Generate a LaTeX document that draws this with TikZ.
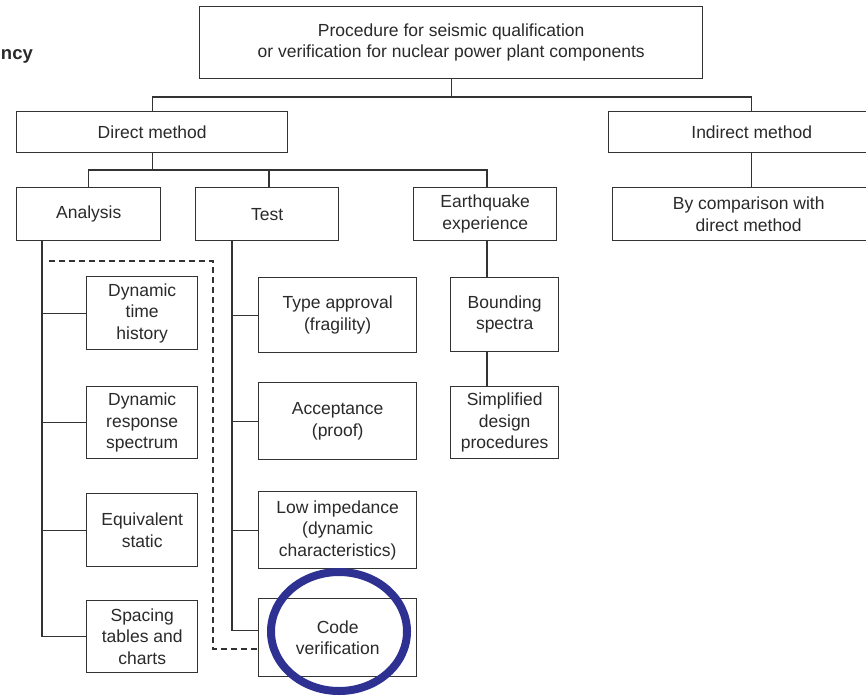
\documentclass[tikz,border=0pt]{standalone}
\usepackage{fontspec}
\setmainfont{Liberation Sans}
\usetikzlibrary{shapes.geometric,calc}
\definecolor{linec}{HTML}{333333}
\definecolor{textc}{HTML}{2A2A2A}
\definecolor{ringc}{RGB}{46,49,146}
\begin{document}
\begin{tikzpicture}[x=1pt,y=-1pt,
  box/.style={draw=linec, line width=1.4pt, inner sep=0pt, align=center, anchor=north west,
    text=textc, font=\fontsize{17.5}{21.5}\selectfont},
  link/.style={draw=linec, line width=1.4pt},
  dashlink/.style={draw=linec, line width=1.3pt, dash pattern=on 6pt off 4pt},
  ring/.style={draw=ringc, line width=8pt, ellipse, inner sep=0pt}]
\useasboundingbox (0,0) rectangle (866,695);
\clip (0,0) rectangle (866,695);
\fill[white] (0,0) rectangle (866,695);

\node[anchor=base west, inner sep=0pt, text=textc, font=\bfseries\fontsize{18.5}{22}\selectfont] (ncy) at (0.8,60) {ncy};

\node[box, minimum width=503, minimum height=72] (top) at (199,6) {Procedure for seismic qualification\\or verification for nuclear power plant components};
\node[box, minimum width=271, minimum height=41] (direct) at (16,111) {Direct method};
\node[box, minimum width=286, minimum height=41] (indirect) at (608,111) {Indirect method};
\node[box, minimum width=144, minimum height=53] (analysis) at (16,187) {Analysis};
\node[box, minimum width=143, minimum height=53] (test) at (195,187) {Test};
\node[box, minimum width=143, minimum height=53] (eq) at (413,187) {Earthquake\\experience};
\node[box, minimum width=272, minimum height=53] (bycomp) at (612,187) {By comparison with\\direct method};

\node[box, minimum width=111, minimum height=73] (dth) at (86,276) {Dynamic\\time\\history};
\node[box, minimum width=111, minimum height=72] (drs) at (86,386) {Dynamic\\response\\spectrum};
\node[box, minimum width=111, minimum height=73] (eqs) at (86,493) {Equivalent\\static};
\node[box, minimum width=111, minimum height=72] (spt) at (86,600) {Spacing\\tables and\\charts};

\node[box, minimum width=158, minimum height=75] (typ) at (258,277) {Type approval\\(fragility)};
\node[box, minimum width=158, minimum height=77] (acc) at (258,382) {Acceptance\\(proof)};
\node[box, minimum width=158, minimum height=77] (low) at (258,491) {Low impedance\\(dynamic\\characteristics)};
\node[box, minimum width=158, minimum height=78] (code) at (258,598) {Code\\verification};

\node[box, minimum width=108, minimum height=74] (bnd) at (450,277) {Bounding\\spectra};
\node[box, minimum width=108, minimum height=72] (simp) at (450,386) {Simplified\\design\\procedures};

% level 1
\coordinate (b0) at (0,97);
\draw[link] (top.south) -- (top.south |- b0);
\draw[link] (direct.north) |- (b0 -| indirect.north) -- (indirect.north);
% level 2 (direct)
\coordinate (b1) at (0,170);
\coordinate (tdrop) at (269,187);
\coordinate (edrop) at (487,187);
\draw[link] (direct.south) -- (direct.south |- b1);
\draw[link] (analysis.north) |- (b1 -| edrop) -- (edrop);
\draw[link] (tdrop) -- (tdrop |- b1);
% indirect
\draw[link] (indirect.south) -- (indirect.south |- bycomp.north);
% analysis list
\coordinate (aL) at (42,240);
\draw[link] (aL) |- (spt.west);
\draw[link] (aL |- dth.west) -- (dth.west);
\draw[link] (aL |- drs.west) -- (drs.west);
\draw[link] (aL |- eqs.west) -- (eqs.west);
% test list
\coordinate (tL) at (232,240);
\coordinate (cj) at ($(code.west)+(0,-7)$);
\draw[link] (tL) |- (cj);
\draw[link] (tL |- typ.west) -- (typ.west);
\draw[link] (tL |- acc.west) -- (acc.west);
\draw[link] (tL |- low.west) -- (low.west);
% earthquake chain
\draw[link] (edrop |- eq.south) -- (edrop |- bnd.north);
\draw[link] (edrop |- bnd.south) -- (edrop |- simp.north);
% dashed enclosure
\coordinate (d1) at (49,261);
\coordinate (d2) at (213,649);
\draw[dashlink] (d1) -| (d2) -- (code.west |- d2);

% highlight ring
\node[ring, minimum width=136, minimum height=119] (hl) at (339,631.5) {};
\end{tikzpicture}
\end{document}
